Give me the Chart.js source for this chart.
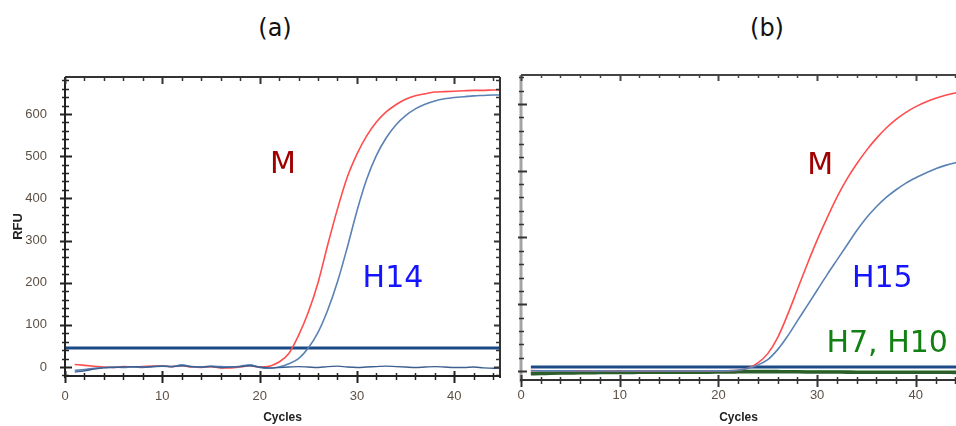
<!DOCTYPE html>
<html>
<head>
<meta charset="utf-8">
<script src="https://cdn.jsdelivr.net/npm/chart.js@4.4.1/dist/chart.umd.min.js"></script>
<style>
  html, body { margin: 0; padding: 0; background: #fff; }
  #wrap { position: relative; width: 956px; height: 426px; overflow: hidden; }
  #wrap canvas { position: absolute; top: 0; }
  #chart-a { left: 0; }
  #chart-b { left: 510px; }
  .panel-tag { position: absolute; top: 14px; font: 24px "DejaVu Sans", sans-serif; color: #111; transform: translateX(-50%); white-space: nowrap; }
</style>
</head>
<body>
<div id="wrap">
  <div class="panel-tag" style="left:275px">(a)</div>
  <div class="panel-tag" style="left:767px">(b)</div>
  <canvas id="chart-a" width="510" height="426"></canvas>
  <canvas id="chart-b" width="446" height="426"></canvas>
</div>
<script>
// cycle numbers shared by every amplification trace
const cycles = [1, 2, 3, 4, 5, 6, 7, 8, 9, 10, 11, 12, 13, 14, 15, 16, 17, 18, 19, 20,
  21, 22, 23, 24, 25, 26, 27, 28, 29, 30, 31, 32, 33, 34, 35, 36, 37, 38, 39, 40,
  41, 42, 43, 44, 45];

// panel (a): M vs H14
const mA = [6, 4, 2, 0, -1, 1, 0, 1, 2, 3, 1, 3, 0, -1, 1, -2, -2, 0, 3, 0,
  2, 12, 32, 75, 130, 200, 290, 375, 450, 505, 548, 581, 605, 622, 635, 643, 648, 652, 653, 654,
  655, 656, 656, 657, 657];
const h14A = [-8, -6, -3, -1, 0, -1, 0, -1, 1, 2, 1, 5, 1, 0, 2, 1, 0, 2, 5, -1,
  -3, 0, 8, 20, 45, 82, 135, 202, 283, 370, 445, 502, 543, 574, 596, 612, 623, 631, 636, 639,
  641, 643, 644, 645, 645];
const negA = [-12, -9, -5, -2, -1, 0, 1, 0, 1, 2, 1, 3, 1, 0, 1, -1, 0, 1, 3, 0,
  -2, -1, 0, 1, 0, -1, 1, 2, 0, -1, 0, 1, 2, 1, 0, -1, 0, 1, 0, -1,
  -1, 0, -2, -3, -2];
const thresholdA = 45;
const thresholdSpanA = [0, 45];

// panel (b): M vs H15, H7 and H10 stay flat
const mB = [5, 4, 3, 2, 2, 1, 1, 0, 0, 1, 0, 0, 1, 0, 0, 1, 0, 0, 1, 2,
  4, 12, 40, 120, 260, 500, 840, 1220, 1600, 1960, 2290, 2600, 2870, 3100, 3305, 3485, 3640, 3770, 3875, 3960,
  4030, 4085, 4130, 4165, 4195];
const h15B = [3, 2, 2, 1, 1, 0, 0, 1, 0, 0, 1, 0, 0, 0, 1, 0, 0, 1, 0, 2,
  3, 10, 40, 90, 170, 320, 520, 750, 980, 1210, 1440, 1660, 1880, 2100, 2295, 2460, 2600, 2715, 2815, 2895,
  2965, 3030, 3080, 3120, 3150];
const h7B = [-30, -28, -26, -24, -22, -20, -18, -17, -16, -15, -15, -14, -14, -13, -13, -12, -12, -12, -11, -10,
  -8, -5, -2, 0, 0, -2, -4, -5, -6, -7, -8, -8, -9, -10, -10, -10, -11, -11, -12, -12,
  -12, -13, -13, -13, -13];
const h10B = [-45, -42, -38, -35, -33, -31, -30, -28, -27, -26, -25, -24, -24, -23, -23, -22, -22, -21, -21, -20,
  -19, -17, -15, -14, -14, -15, -16, -17, -18, -19, -20, -20, -21, -21, -22, -22, -22, -23, -23, -23,
  -24, -24, -24, -25, -25];
const thresholdB = 60;
const thresholdSpanB = [1, 45];

const xTickLabels = [0, 10, 20, 30, 40];
const yTickLabelsA = [0, 100, 200, 300, 400, 500, 600];

const TICK_FONT = { family: 'Liberation Sans', size: 13 };
const TICK_COLOR = '#5c5045';

const pts = vals => vals.map((v, i) => ({ x: cycles[i], y: v }));
const flat = (span, v) => span.map(c => ({ x: c, y: v }));

function trace(label, data, color, width) {
  return { label, data, borderColor: color, borderWidth: width, pointRadius: 0,
    cubicInterpolationMode: 'monotone', fill: false };
}

/* box around the plot plus inward/outward tick marks, major and minor */
const frameTicks = {
  id: 'frameTicks',
  afterDatasetsDraw(chart, args, o) {
    const { ctx, chartArea: a, scales } = chart;
    ctx.save();
    ctx.lineCap = 'butt';
    o.edges.forEach(e => {
      const horiz = e.side === 'top' || e.side === 'bottom';
      const s = horiz ? scales.x : scales.y;
      ctx.strokeStyle = e.line;
      ctx.lineWidth = e.lineWidth;
      ctx.beginPath();
      if (e.side === 'left') { ctx.moveTo(a.left, a.top); ctx.lineTo(a.left, a.bottom + 2); }
      if (e.side === 'right') { ctx.moveTo(a.right, a.top); ctx.lineTo(a.right, a.bottom + 2); }
      if (e.side === 'top') { ctx.moveTo(a.left, a.top); ctx.lineTo(a.right, a.top); }
      if (e.side === 'bottom') { ctx.moveTo(a.left - 1, a.bottom); ctx.lineTo(a.right + 1, a.bottom); }
      ctx.stroke();

      ctx.strokeStyle = e.tickColor || e.line;
      const start = Math.ceil(s.min / e.minor) * e.minor;
      for (let v = start; v <= s.max + 1e-9; v += e.minor) {
        const major = Math.abs(v / e.step - Math.round(v / e.step)) < 1e-6;
        const out = major ? e.majorOut || 0 : e.minorOut || 0;
        const inn = major ? e.majorIn : e.minorIn;
        const p = Math.round(s.getPixelForValue(v)) + 0.5;
        ctx.lineWidth = major ? 2 : 1.5;
        ctx.beginPath();
        if (e.side === 'left') { ctx.moveTo(a.left - out, p); ctx.lineTo(a.left + inn, p); }
        if (e.side === 'right') { ctx.moveTo(a.right + out, p); ctx.lineTo(a.right - inn, p); }
        if (e.side === 'top') { ctx.moveTo(p, a.top - out); ctx.lineTo(p, a.top + inn); }
        if (e.side === 'bottom') { ctx.moveTo(p, a.bottom + out); ctx.lineTo(p, a.bottom - inn); }
        ctx.stroke();
      }
    });
    ctx.restore();
  }
};

/* sample names written next to their curves */
const curveLabels = {
  id: 'curveLabels',
  afterDatasetsDraw(chart, args, o) {
    const { ctx, scales: { x, y } } = chart;
    ctx.save();
    ctx.font = o.font;
    ctx.textAlign = 'center';
    ctx.textBaseline = 'alphabetic';
    o.items.forEach(it => {
      ctx.fillStyle = it.color;
      ctx.fillText(it.text, x.getPixelForValue(it.x), y.getPixelForValue(it.y));
    });
    ctx.restore();
  }
};

function xScale(max, height, tickPad, titlePad) {
  return {
    type: 'linear', min: 0, max,
    grid: { display: false }, border: { display: false },
    afterBuildTicks: s => { s.ticks = xTickLabels.map(v => ({ value: v })); },
    ticks: { padding: tickPad, color: TICK_COLOR, font: TICK_FONT, maxRotation: 0 },
    title: { display: true, text: 'Cycles', color: '#222',
      font: { family: 'Liberation Sans', size: 12, weight: 'bold' }, padding: { top: 0, bottom: titlePad } },
    afterFit: s => { s.height = height; }
  };
}

const common = {
  responsive: false,
  animation: false,
  devicePixelRatio: 1,
  events: [],
  plugins: { legend: { display: false }, tooltip: { enabled: false } }
};

// (a)
new Chart(document.getElementById('chart-a'), {
  type: 'line',
  data: {
    datasets: [
      trace('neg', pts(negA), '#3c5f8f', 1.4),
      trace('H14', pts(h14A), '#5a82b4', 1.6),
      trace('M', pts(mA), '#ff4d4d', 1.6),
      trace('threshold', flat(thresholdSpanA, thresholdA), '#1c4a86', 3)
    ]
  },
  options: {
    ...common,
    layout: { padding: { top: 77, right: 10, left: 0, bottom: 0 } },
    scales: {
      x: xScale(44.7, 50, 5, 1),
      y: {
        min: -21.3, max: 687.7,
        grid: { display: false }, border: { display: false },
        afterBuildTicks: s => { s.ticks = yTickLabelsA.map(v => ({ value: v })); },
        ticks: { padding: 10, color: TICK_COLOR, font: TICK_FONT },
        title: { display: true, text: 'RFU', color: '#222',
          font: { family: 'Liberation Sans', size: 13, weight: 'bold' }, padding: { top: 11, bottom: 0 } },
        afterFit: s => { s.width = 65; }
      }
    },
    plugins: {
      ...common.plugins,
      frameTicks: { edges: [
        { side: 'left', line: '#222', lineWidth: 2, step: 100, minor: 20, majorOut: 5, majorIn: 7, minorOut: 3, minorIn: 4 },
        { side: 'right', line: '#333', lineWidth: 2, step: 100, minor: 20, majorIn: 6, minorIn: 4 },
        { side: 'top', line: '#333', lineWidth: 2, step: 10, minor: 2, majorIn: 7, minorIn: 4 },
        { side: 'bottom', line: '#222', lineWidth: 2, step: 10, minor: 2, majorOut: 7, majorIn: 5, minorOut: 4, minorIn: 3 }
      ] },
      curveLabels: { font: '30px "DejaVu Sans"', items: [
        { text: 'M', x: 22.4, y: 460, color: '#a00000' },
        { text: 'H14', x: 33.7, y: 190, color: '#1414ff' }
      ] }
    }
  },
  plugins: [frameTicks, curveLabels]
});

// (b)
new Chart(document.getElementById('chart-b'), {
  type: 'line',
  data: {
    datasets: [
      trace('H15', pts(h15B), '#5a82b4', 1.6),
      trace('M', pts(mB), '#ff4d4d', 1.6),
      trace('threshold', flat(thresholdSpanB, thresholdB), '#1c4a86', 3),
      trace('H10', pts(h10B), '#2b5e2b', 3),
      trace('H7', pts(h7B), '#236b23', 2.5)
    ]
  },
  options: {
    ...common,
    layout: { padding: { top: 75, right: 0, left: 0, bottom: 0 } },
    scales: {
      x: xScale(44.07, 46, 0, 1),
      y: {
        min: -135, max: 4434,
        grid: { display: false }, border: { display: false },
        ticks: { display: false },
        afterFit: s => { s.width = 11; }
      }
    },
    plugins: {
      ...common.plugins,
      frameTicks: { edges: [
        { side: 'left', line: '#a5a5a5', lineWidth: 3, tickColor: '#333', step: 1000, minor: 200, majorOut: 3, majorIn: 6, minorOut: 2, minorIn: 3 },
        { side: 'top', line: '#444', lineWidth: 2, step: 10, minor: 2, majorIn: 6, minorIn: 3 },
        { side: 'bottom', line: '#333', lineWidth: 2, step: 10, minor: 2, majorOut: 7, majorIn: 5, minorOut: 4, minorIn: 3 }
      ] },
      curveLabels: { font: '30px "DejaVu Sans"', items: [
        { text: 'M', x: 30.3, y: 2951, color: '#a00000' },
        { text: 'H15', x: 36.6, y: 1258, color: '#1414ff' },
        { text: 'H7, H10', x: 37.1, y: 285, color: '#138013' }
      ] }
    }
  },
  plugins: [frameTicks, curveLabels]
});
</script>
</body>
</html>
